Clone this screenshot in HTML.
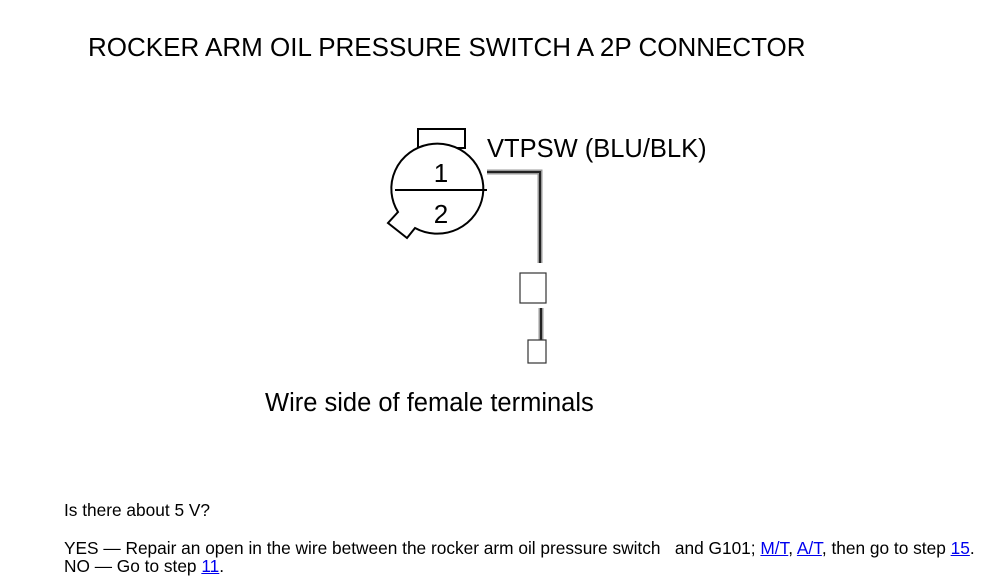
<!DOCTYPE html>
<html><head><style>
body{margin:0;width:1000px;height:588px;background:#fff;font-family:"Liberation Sans",sans-serif;color:#000;position:relative;overflow:hidden}
.t{position:absolute;white-space:nowrap;line-height:1}
a{color:#00e;text-decoration:underline}
</style></head><body>
<div class="t" style="left:88px;top:34px;font-size:26px">ROCKER ARM OIL PRESSURE SWITCH A 2P CONNECTOR</div>
<svg style="position:absolute;left:0;top:0" width="1000" height="588">
<rect x="418" y="129" width="47" height="19" fill="#fff" stroke="#000" stroke-width="2"/>
<path d="M398 212 A46 45 0 1 1 415 228 L407 238 L388 223 Z" fill="#fff" stroke="#000" stroke-width="2" stroke-linejoin="miter"/>
<line x1="395" y1="190" x2="487" y2="190" stroke="#000" stroke-width="2"/>
<polyline points="487,172 540,172 540,263" fill="none" stroke="#999" stroke-width="5"/>
<polyline points="487,172 540,172 540,263" fill="none" stroke="#222" stroke-width="2"/>
<rect x="520" y="273" width="26" height="30" fill="#fff" stroke="#333" stroke-width="1.2"/>
<line x1="541" y1="308" x2="541" y2="345" stroke="#999" stroke-width="5"/>
<line x1="541" y1="308" x2="541" y2="345" stroke="#222" stroke-width="2"/>
<rect x="528" y="340" width="18" height="23" fill="#fff" stroke="#333" stroke-width="1.2"/>
<text x="441" y="182" font-size="26" text-anchor="middle" font-family="Liberation Sans">1</text>
<text x="441" y="223" font-size="26" text-anchor="middle" font-family="Liberation Sans">2</text>
</svg>
<div class="t" style="left:487px;top:137px;font-size:25.5px">VTPSW (BLU/BLK)</div>
<div class="t" style="left:265px;top:391px;font-size:25.5px">Wire side of female terminals</div>
<div class="t" style="left:64px;top:502px;font-size:17.3px">Is there about 5 V?</div>
<div class="t" style="left:64px;top:540px;font-size:17.3px">YES — Repair an open in the wire between the rocker arm oil pressure switch &nbsp; and G101; <a>M/T</a>, <a>A/T</a>, then go to step <a>15</a>.</div>
<div class="t" style="left:64px;top:558px;font-size:17.3px">NO — Go to step <a>11</a>.</div>
</body></html>
